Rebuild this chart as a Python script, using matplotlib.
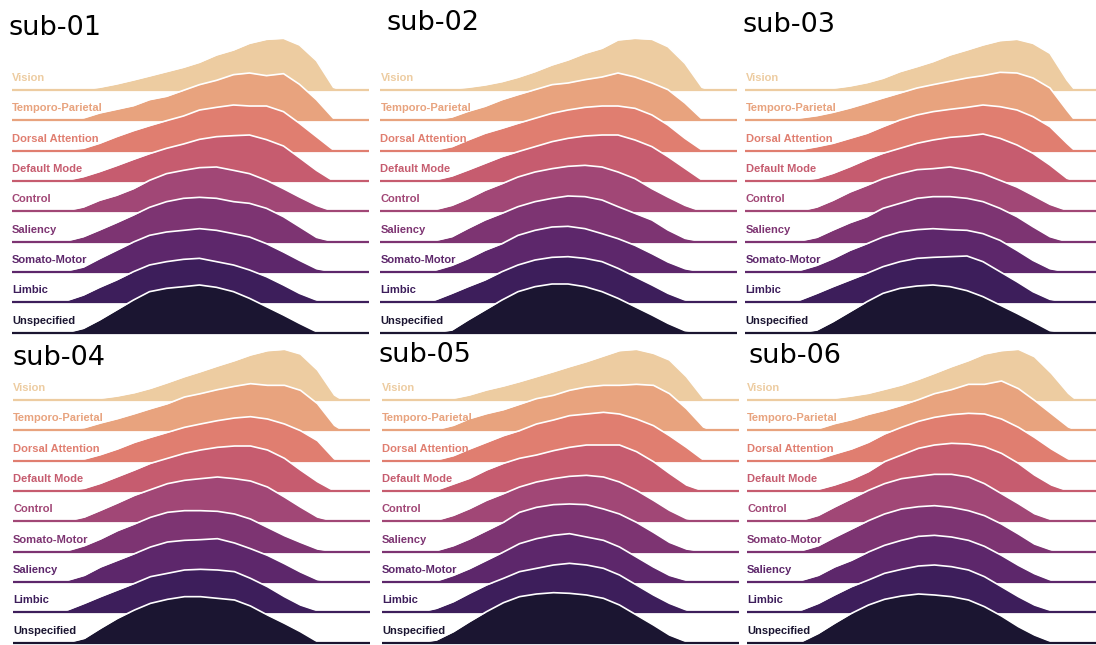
import numpy as np
import matplotlib.pyplot as plt

# shared evaluation grid for the density curves
grid = [38, 55, 72, 88, 105, 122, 138, 155, 172, 188, 205, 222, 238, 255, 272, 288, 305, 322, 330, 338]

order_a = ["Vision", "Temporo-Parietal", "Dorsal Attention", "Default Mode", "Control",
           "Saliency", "Somato-Motor", "Limbic", "Unspecified"]
order_b = ["Vision", "Temporo-Parietal", "Dorsal Attention", "Default Mode", "Control",
           "Somato-Motor", "Saliency", "Limbic", "Unspecified"]

palette = ["#EDCCA1", "#E8A37E", "#E07E70", "#C65C6F", "#A14776",
           "#7D3472", "#5D276B", "#3D1E5B", "#1B1531"]

sub01 = [
    [0, 0, 1, 8, 18, 30, 42, 55, 68, 83, 105, 120, 140, 152, 155, 135, 88, 8, 0, 0],
    [0, 2, 7, 22, 33, 44, 62, 72, 90, 107, 120, 137, 142, 134, 140, 108, 62, 6, 0, 0],
    [0, 2, 7, 22, 42, 60, 75, 90, 104, 122, 130, 137, 134, 134, 117, 82, 42, 2, 0, 0],
    [0, 2, 13, 28, 46, 65, 82, 98, 111, 125, 133, 136, 138, 124, 105, 70, 32, 0, 0, 0],
    [0, 2, 13, 33, 48, 68, 93, 113, 123, 131, 133, 123, 113, 93, 68, 43, 18, 0, 0, 0],
    [0, 2, 15, 35, 57, 80, 103, 120, 130, 133, 130, 120, 115, 100, 75, 45, 13, 0, 0, 0],
    [0, 3, 15, 40, 65, 90, 110, 120, 125, 130, 125, 115, 105, 85, 60, 35, 10, 0, 0, 0],
    [0, 5, 22, 45, 67, 92, 112, 122, 129, 132, 122, 112, 97, 77, 52, 27, 7, 0, 0, 0],
    [0, 0, 13, 38, 68, 98, 123, 133, 138, 143, 136, 123, 103, 78, 53, 28, 3, 0, 0, 0],
]
sub02 = [
    [0, 0, 3, 8, 15, 25, 38, 55, 75, 90, 110, 125, 150, 155, 152, 130, 80, 8, 0, 0],
    [0, 2, 10, 27, 42, 62, 77, 92, 107, 112, 122, 130, 142, 130, 112, 92, 52, 4, 0, 0],
    [0, 2, 12, 32, 52, 67, 82, 97, 112, 122, 130, 134, 134, 127, 107, 77, 37, 2, 0, 0],
    [0, 3, 15, 33, 53, 73, 88, 103, 118, 128, 135, 138, 138, 123, 103, 73, 38, 3, 0, 0],
    [0, 5, 18, 38, 63, 83, 103, 118, 128, 135, 138, 133, 118, 98, 68, 43, 18, 0, 0, 0],
    [0, 3, 15, 40, 65, 85, 105, 120, 130, 137, 135, 125, 105, 85, 65, 35, 10, 0, 0, 0],
    [0, 5, 20, 40, 65, 85, 110, 125, 135, 137, 130, 115, 100, 80, 55, 30, 10, 0, 0, 0],
    [0, 7, 27, 47, 67, 92, 112, 127, 135, 137, 132, 122, 102, 77, 52, 27, 7, 0, 0, 0],
    [0, 0, 8, 38, 68, 98, 123, 138, 146, 146, 138, 123, 103, 78, 53, 28, 6, 0, 0, 0],
]
sub03 = [
    [0, 0, 1, 5, 12, 22, 35, 55, 70, 85, 105, 120, 135, 148, 152, 140, 110, 30, 0, 0],
    [0, 7, 14, 24, 37, 52, 67, 82, 97, 107, 117, 127, 134, 144, 142, 127, 97, 30, 0, 0],
    [0, 3, 12, 22, 37, 52, 72, 92, 107, 117, 124, 130, 137, 132, 122, 102, 72, 22, 0, 0],
    [0, 2, 8, 23, 43, 65, 83, 98, 113, 123, 131, 135, 141, 128, 108, 83, 48, 8, 0, 0],
    [0, 1, 13, 33, 58, 78, 98, 113, 125, 128, 133, 125, 113, 93, 73, 48, 21, 3, 0, 0],
    [0, 2, 13, 35, 57, 75, 100, 115, 130, 135, 135, 130, 120, 100, 75, 45, 15, 0, 0, 0],
    [0, 5, 20, 40, 65, 85, 105, 120, 127, 130, 127, 125, 115, 95, 65, 35, 10, 0, 0, 0],
    [0, 7, 27, 47, 67, 87, 107, 122, 132, 135, 137, 139, 122, 92, 62, 32, 9, 0, 0, 0],
    [0, 0, 8, 33, 63, 93, 118, 133, 140, 143, 138, 126, 108, 83, 58, 33, 6, 0, 0, 0],
]
sub04 = [
    [0, 0, 1, 5, 12, 22, 35, 52, 70, 85, 102, 118, 135, 148, 152, 138, 90, 15, 0, 0],
    [0, 2, 8, 22, 35, 50, 65, 80, 100, 110, 122, 132, 140, 135, 135, 120, 80, 15, 0, 0],
    [0, 1, 5, 18, 35, 55, 70, 85, 100, 110, 120, 128, 132, 125, 110, 90, 60, 5, 0, 0],
    [0, 2, 8, 23, 43, 63, 83, 98, 113, 123, 131, 135, 135, 123, 98, 63, 28, 0, 0, 0],
    [0, 1, 13, 33, 55, 78, 95, 113, 123, 128, 133, 128, 121, 103, 73, 43, 13, 0, 0, 0],
    [0, 3, 18, 38, 63, 83, 103, 118, 123, 123, 121, 113, 98, 73, 48, 28, 8, 0, 0, 0],
    [0, 5, 20, 45, 65, 85, 105, 120, 125, 127, 130, 117, 100, 80, 55, 30, 7, 0, 0, 0],
    [0, 7, 27, 47, 67, 87, 107, 117, 127, 129, 127, 122, 102, 77, 47, 22, 5, 0, 0, 0],
    [0, 0, 13, 43, 73, 98, 118, 130, 138, 138, 133, 128, 110, 83, 58, 33, 3, 0, 0, 0],
]
sub05 = [
    [0, 0, 5, 15, 30, 42, 55, 70, 85, 100, 115, 132, 148, 152, 140, 120, 70, 5, 0, 0],
    [0, 2, 15, 35, 50, 62, 78, 95, 105, 120, 130, 135, 135, 138, 135, 110, 65, 10, 0, 0],
    [0, 2, 15, 35, 55, 75, 90, 110, 122, 135, 140, 145, 140, 125, 105, 75, 40, 2, 0, 0],
    [0, 3, 21, 38, 63, 83, 98, 108, 121, 131, 138, 138, 138, 118, 88, 53, 18, 0, 0, 0],
    [0, 3, 18, 38, 63, 83, 103, 118, 128, 135, 138, 133, 118, 93, 63, 33, 8, 0, 0, 0],
    [0, 3, 18, 38, 63, 88, 118, 133, 141, 143, 141, 128, 113, 88, 58, 28, 8, 0, 0, 0],
    [0, 3, 20, 40, 65, 90, 115, 130, 140, 145, 135, 125, 105, 75, 45, 20, 5, 0, 0, 0],
    [0, 12, 32, 57, 82, 102, 122, 132, 142, 147, 142, 132, 112, 82, 52, 27, 7, 0, 0, 0],
    [0, 8, 33, 63, 93, 120, 138, 146, 150, 148, 143, 133, 113, 83, 53, 23, 3, 0, 0, 0],
]
sub06 = [
    [0, 0, 1, 5, 12, 20, 32, 45, 62, 80, 100, 118, 138, 148, 152, 130, 80, 20, 0, 0],
    [0, 1, 5, 20, 32, 48, 60, 75, 92, 110, 122, 138, 138, 148, 125, 90, 50, 10, 0, 0],
    [0, 1, 5, 20, 35, 55, 80, 100, 118, 130, 138, 142, 140, 125, 100, 70, 35, 5, 0, 0],
    [0, 1, 5, 18, 35, 58, 88, 108, 128, 138, 143, 141, 133, 113, 83, 48, 18, 0, 0, 0],
    [0, 3, 18, 43, 68, 93, 113, 128, 135, 141, 141, 133, 113, 83, 53, 23, 5, 0, 0, 0],
    [0, 3, 18, 43, 68, 93, 113, 128, 135, 138, 133, 123, 108, 83, 53, 23, 5, 0, 0, 0],
    [0, 5, 20, 45, 65, 90, 110, 125, 137, 140, 135, 125, 107, 80, 50, 25, 5, 0, 0, 0],
    [0, 7, 27, 52, 77, 97, 117, 129, 139, 142, 137, 127, 107, 77, 47, 22, 5, 0, 0, 0],
    [0, 3, 28, 58, 88, 113, 130, 140, 146, 143, 138, 128, 108, 80, 48, 23, 3, 0, 0, 0],
]

W, H = 1096, 645
PANEL_W = 357
STEP = 91  # vertical offset between ridges, in density units

fig = plt.figure(figsize=(W / 100, H / 100), dpi=100)


def ridge_panel(left, top, bottom, base, dens, names, title, tx, ty):
    ax = fig.add_axes([left / W, 1 - bottom / H, PANEL_W / W, (bottom - top) / H])
    ax.set_xlim(0, PANEL_W)
    ax.set_ylim(-(bottom - base) * 3, (base - top) * 3)
    ax.axis("off")
    for i, (vals, name) in enumerate(zip(dens, names)):
        c = palette[i]
        y0 = -STEP * i
        h = np.array(vals, dtype=float)
        z = 10 + 4 * i
        ax.fill_between(grid, y0, y0 + h, color=c, lw=0, zorder=z)
        ax.plot(grid, y0 + h, color="white", lw=1.2, zorder=z + 1)
        ax.axhline(y0, color=c, lw=1.6, zorder=z + 2)
        ax.text(0.5, y0 + 36, name, color=c, fontsize=8, fontweight="bold",
                family="Liberation Sans", ha="left", va="center", zorder=z + 3)
    fig.text(tx / W, 1 - ty / H, title, fontsize=19.5, ha="left", va="baseline")


ridge_panel(11.5, 0, 335, 90, sub01, order_a, "sub-01", 8, 35)
ridge_panel(380, 0, 335, 90, sub02, order_a, "sub-02", 386, 30)
ridge_panel(745, 0, 335, 90, sub03, order_a, "sub-03", 743, 32)
ridge_panel(12.5, 335, 645, 400, sub04, order_b, "sub-04", 12, 365)
ridge_panel(381.5, 335, 645, 400, sub05, order_a, "sub-05", 379, 362)
ridge_panel(746.5, 335, 645, 400, sub06, order_b, "sub-06", 748, 363)

fig.savefig("out.png", dpi=100)
